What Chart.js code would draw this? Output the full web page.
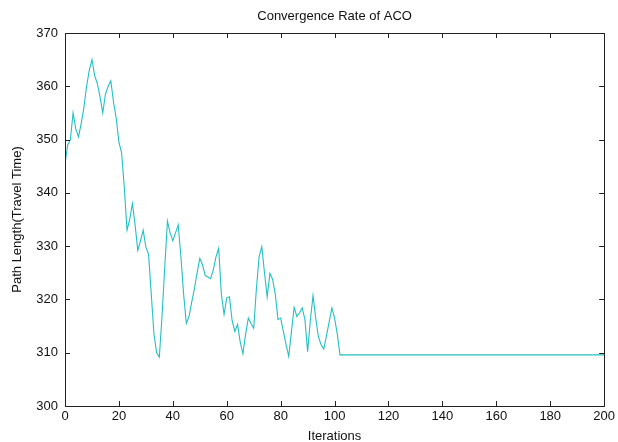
<!DOCTYPE html>
<html>
<head>
<meta charset="utf-8">
<script src="https://cdn.jsdelivr.net/npm/chart.js@4/dist/chart.umd.min.js"></script>
<style>
  html, body { margin: 0; padding: 0; background: #fff; }
  #wrap { width: 618px; height: 442px; }
</style>
</head>
<body>
<div id="wrap"><canvas id="aco"></canvas></div>
<script>
// path length per iteration (iterations 0..102)
const pathLength = [
  345.5, 349, 350, 355, 352, 350.5, 353, 356, 360, 363,
  365, 362, 360.5, 358, 355, 358.5, 360, 361, 357, 354,
  349.5, 347.5, 341, 333, 335, 338, 334, 329.2, 331, 333,
  329.8, 328.5, 321, 313.5, 310, 309.2, 317, 326, 334.7, 332.5,
  331, 332.5, 334, 328, 321, 315.5, 316.8, 319.5, 322, 325,
  327.7, 326.5, 324.5, 324.2, 323.9, 325.5, 328, 329.6, 321, 317.2,
  320.3, 320.5, 316, 314, 315.3, 312, 309.8, 313.5, 316.5, 315.5,
  314.6, 322, 328, 329.9, 325, 320.5, 324.9, 323.8, 321, 316.2,
  316.5, 314, 311.5, 309.3, 314, 318.5, 316.8, 317.5, 318.4, 316.2,
  310.2, 316, 320.7, 316.5, 313, 311.5, 310.7, 313.2, 315.8, 318.4,
  316.5, 313.5, 309.6
];
// after iteration 102 the best path stays the same
const finalLength = 309.6;
const lastIteration = 200;

const xTicks = [0, 20, 40, 60, 80, 100, 120, 140, 160, 180, 200];
const yTicks = [300, 310, 320, 330, 340, 350, 360, 370];

const points = pathLength.map((v, i) => ({ x: i, y: v }));
points.push({ x: lastIteration, y: finalLength });

const font = { family: 'Liberation Sans, Arial, sans-serif', size: 13 };

// box round the plot and inward tick marks, matlab style
const boxPlugin = {
  id: 'box',
  afterDraw(chart) {
    const ctx = chart.ctx;
    const a = chart.chartArea;
    const xs = chart.scales.x, ys = chart.scales.y;
    const len = 5;
    ctx.save();
    ctx.strokeStyle = '#222';
    ctx.lineWidth = 1;
    ctx.strokeRect(Math.round(a.left) + 0.5, Math.round(a.top) + 0.5,
      Math.round(a.right - a.left), Math.round(a.bottom - a.top));
    ctx.beginPath();
    xTicks.forEach(t => {
      const px = Math.round(xs.getPixelForValue(t)) + 0.5;
      ctx.moveTo(px, a.bottom); ctx.lineTo(px, a.bottom - len);
      ctx.moveTo(px, a.top); ctx.lineTo(px, a.top + len);
    });
    yTicks.forEach(t => {
      const py = Math.round(ys.getPixelForValue(t)) + 0.5;
      ctx.moveTo(a.left, py); ctx.lineTo(a.left + len, py);
      ctx.moveTo(a.right, py); ctx.lineTo(a.right - len, py);
    });
    ctx.stroke();
    // title
    ctx.fillStyle = '#111';
    ctx.font = '13px Liberation Sans, Arial, sans-serif';
    ctx.textAlign = 'center';
    ctx.textBaseline = 'middle';
    ctx.fillText('Convergence Rate of ACO', (a.left + a.right) / 2, 16);
    ctx.restore();
  }
};

new Chart(document.getElementById('aco'), {
  type: 'line',
  data: {
    datasets: [{
      data: points,
      borderColor: 'rgb(35,192,192)',
      borderWidth: 1.1,
      pointRadius: 0,
      tension: 0,
      fill: false
    }]
  },
  options: {
    responsive: true,
    maintainAspectRatio: false,
    animation: false,
    layout: { padding: { top: 33, right: 13, left: 0, bottom: 0 } },
    plugins: {
      legend: { display: false },
      tooltip: { enabled: false }
    },
    scales: {
      x: {
        type: 'linear',
        min: 0,
        max: 200,
        afterBuildTicks: s => { s.ticks = xTicks.map(v => ({ value: v })); },
        afterFit: s => { s.height = 36; },
        grid: { display: false, drawTicks: false },
        border: { display: false },
        ticks: { color: '#111', font: font, padding: 3, maxRotation: 0 },
        title: { display: true, text: 'Iterations', color: '#111', font: font, padding: { top: 0, bottom: -2 } }
      },
      y: {
        min: 300,
        max: 370,
        afterBuildTicks: s => { s.ticks = yTicks.map(v => ({ value: v })); },
        afterFit: s => { s.width = 65; },
        grid: { display: false, drawTicks: false },
        border: { display: false },
        ticks: { color: '#111', font: font, padding: 7 },
        title: { display: true, text: 'Path Length(Travel Time)', color: '#111', font: font, padding: { top: 10, bottom: 0 } }
      }
    }
  },
  plugins: [boxPlugin]
});
</script>
</body>
</html>
